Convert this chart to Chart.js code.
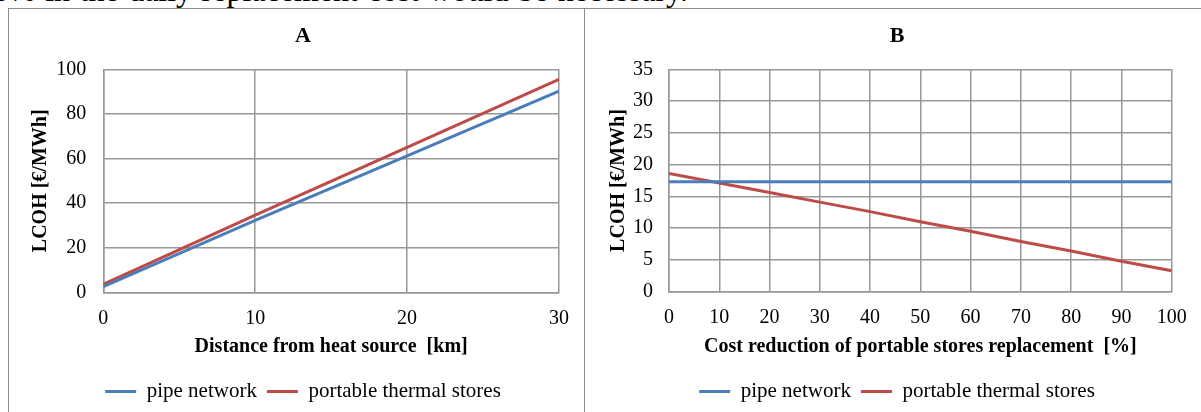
<!DOCTYPE html>
<html>
<head>
<meta charset="utf-8">
<script src="https://cdn.jsdelivr.net/npm/chart.js@4.4.1/dist/chart.umd.min.js"></script>
<style>
  html, body { margin: 0; padding: 0; background: #fff; }
  body { width: 1201px; height: 412px; position: relative; overflow: hidden; font-family: "Liberation Serif", serif; }
  .intro { position: absolute; top: -26px; right: 513px; font-size: 32px; line-height: 32px; word-spacing: 1.5px; white-space: nowrap; color: #000; }
  .frame { position: absolute; border: 1px solid #8c8c8c; box-sizing: border-box; }
  canvas { position: absolute; }
</style>
</head>
<body>
<div class="intro">10% in the daily replacement cost would be necessary.</div>
<div class="frame" style="left:8px; top:8px; width:577px; height:420px;"></div>
<div class="frame" style="left:584px; top:8px; width:630px; height:420px;"></div>
<canvas id="chartA" width="574" height="402" style="left:9px; top:10px;"></canvas>
<canvas id="chartB" width="616" height="402" style="left:585px; top:10px;"></canvas>
<script>
"use strict";

// panel A: LCOH vs distance
var distanceKm = [0, 10, 20, 30];
var pipeA = [2.5, 32.3, 61.2, 90.2];
var storesA = [3.6, 34.6, 65.0, 95.5];

// panel B: LCOH vs cost reduction of store replacement
var costReduction = [0, 10, 20, 30, 40, 50, 60, 70, 80, 90, 100];
var pipeB = [17.3, 17.3, 17.3, 17.3, 17.3, 17.3, 17.3, 17.3, 17.3, 17.3, 17.3];
var storesB = [18.6, 17.1, 15.6, 14.1, 12.6, 11.0, 9.5, 7.9, 6.4, 4.8, 3.3];

var seriesNames = ["pipe network", "portable thermal stores"];
var BLUE = "#4A7EBB";
var RED = "#BE4B48";
var GRID = "#979797";
var FONT = "'Liberation Serif', 'Times New Roman', serif";

function points(xs, ys) {
  return xs.map(function (x, i) { return { x: x, y: ys[i] }; });
}

function lineSet(label, color, xs, ys) {
  return {
    label: label,
    data: points(xs, ys),
    borderColor: color,
    backgroundColor: color,
    borderWidth: 3,
    pointRadius: 0,
    tension: 0
  };
}

function makeChart(id, cfg) {
  return new Chart(document.getElementById(id), {
    type: "line",
    data: {
      datasets: [
        lineSet(seriesNames[0], BLUE, cfg.xs, cfg.pipe),
        lineSet(seriesNames[1], RED, cfg.xs, cfg.stores)
      ]
    },
    options: {
      responsive: false,
      animation: false,
      devicePixelRatio: 1,
      layout: { padding: { left: cfg.padLeft, right: 0, top: 0, bottom: 0 } },
      plugins: {
        tooltip: { enabled: false },
        title: {
          display: true,
          text: cfg.title,
          color: "#000",
          font: { family: FONT, size: 22, weight: "bold" },
          padding: { top: 12.8, bottom: 20.1 }
        },
        legend: {
          position: "bottom",
          labels: {
            color: "#000",
            font: { family: FONT, size: 21 },
            usePointStyle: true,
            pointStyle: "line",
            pointStyleWidth: 31,
            padding: 10
          }
        }
      },
      scales: {
        x: {
          type: "linear",
          min: cfg.xMin,
          max: cfg.xMax,
          ticks: { stepSize: cfg.xStep, color: "#000", font: { family: FONT, size: 20 }, padding: cfg.xTickPad, maxRotation: 0 },
          grid: { color: GRID, lineWidth: 1.5, drawTicks: false },
          border: { color: GRID, width: 1.5 },
          title: {
            display: true,
            text: cfg.xTitle,
            color: "#000",
            font: { family: FONT, size: 20, weight: "bold" },
            padding: { top: 0, bottom: 12 }
          },
          afterFit: function (s) { s.height = cfg.xHeight; }
        },
        y: {
          min: cfg.yMin,
          max: cfg.yMax,
          ticks: { stepSize: cfg.yStep, color: "#000", font: { family: FONT, size: 20 }, padding: cfg.yTickPad },
          grid: { color: GRID, lineWidth: 1.5, drawTicks: false },
          border: { color: GRID, width: 1.5 },
          title: {
            display: true,
            text: "LCOH [€/MWh]",
            color: "#000",
            font: { family: FONT, size: 20, weight: "bold" },
            padding: { top: cfg.yTitlePad, bottom: 0 }
          },
          afterFit: function (s) { s.width = cfg.yWidth; }
        },
        yR: {
          position: "right",
          display: true,
          grid: { display: false },
          border: { display: false },
          ticks: { display: false },
          afterFit: function (s) { s.width = cfg.rightGap; }
        }
      }
    }
  });
}

makeChart("chartA", {
  title: "A",
  xs: distanceKm, pipe: pipeA, stores: storesA,
  xMin: 0, xMax: 30, xStep: 10,
  yMin: 0, yMax: 100, yStep: 20,
  xTitle: "Distance from heat source  [km]",
  padLeft: 14, yWidth: 80.3, yTickPad: 17, yTitlePad: 6,
  xHeight: 78.7, xTickPad: 14, rightGap: 17.3
});

makeChart("chartB", {
  title: "B",
  xs: costReduction, pipe: pipeB, stores: storesB,
  xMin: 0, xMax: 100, xStep: 10,
  yMin: 0, yMax: 35, yStep: 5,
  xTitle: "Cost reduction of portable stores replacement  [%]",
  padLeft: 8, yWidth: 76, yTickPad: 16, yTitlePad: 14,
  xHeight: 79.3, xTickPad: 14.3, rightGap: 28.3
});
</script>
</body>
</html>
